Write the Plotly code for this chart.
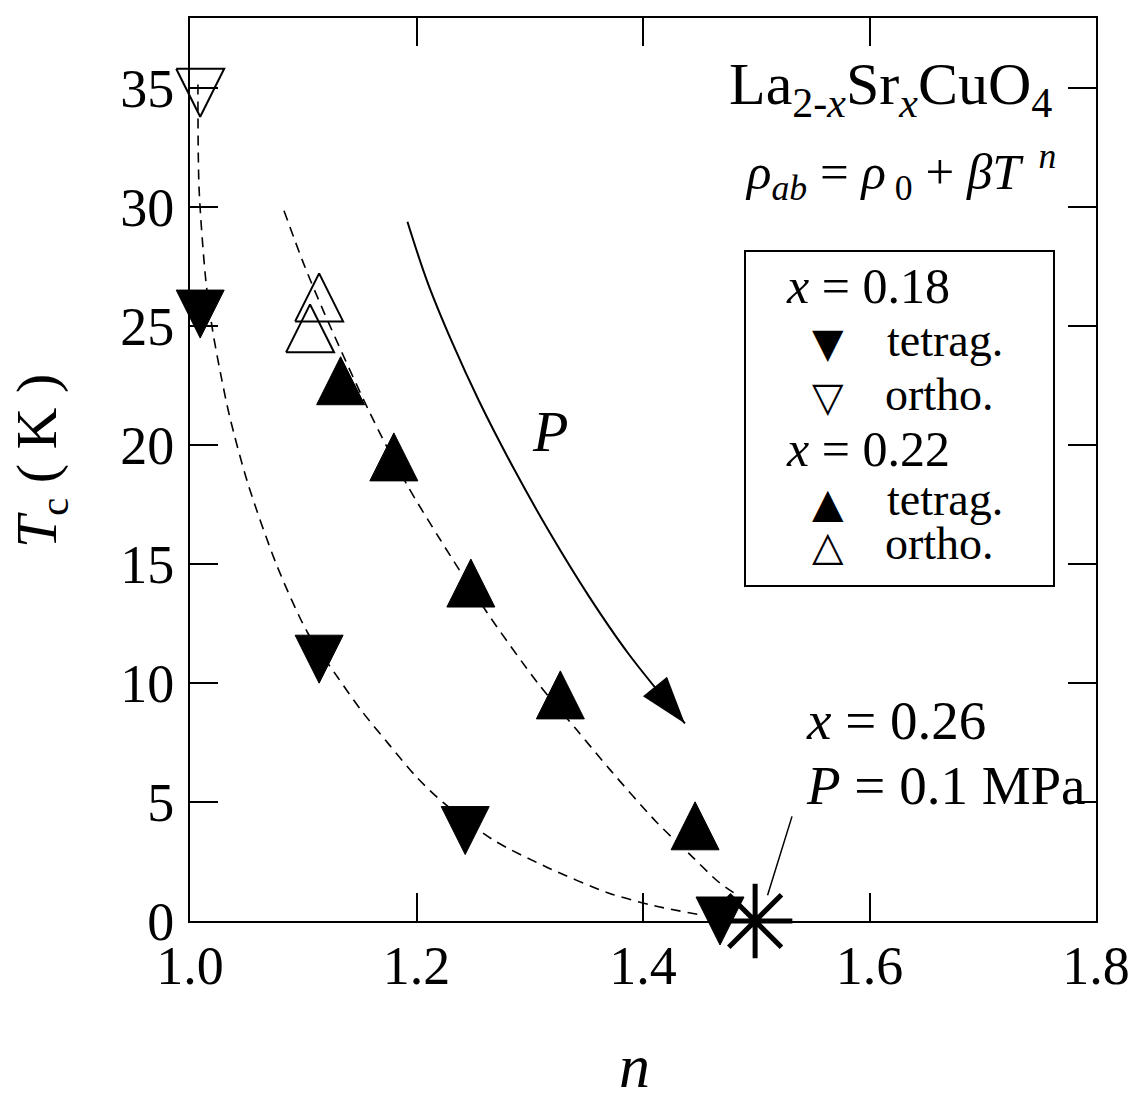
import plotly.graph_objects as go

# ------------------------------------------------------------------
# Tc versus the resistivity exponent n of La(2-x)Sr(x)CuO4
# ------------------------------------------------------------------

# x = 0.18, tetragonal phase (filled down-triangles)
n_x18_tet = [1.009, 1.114, 1.243, 1.468]
tc_x18_tet = [25.5, 11.0, 3.8, 0.0]
# x = 0.18, orthorhombic phase (open down-triangle)
n_x18_ort = [1.009]
tc_x18_ort = [34.8]
# x = 0.22, tetragonal phase (filled up-triangles)
n_x22_tet = [1.133, 1.180, 1.248, 1.327, 1.446]
tc_x22_tet = [22.7, 19.5, 14.2, 9.5, 4.0]
# x = 0.22, orthorhombic phase (open up-triangles)
n_x22_ort = [1.114, 1.106]
tc_x22_ort = [26.2, 24.9]
# x = 0.26 at P = 0.1 MPa
n_x26 = [1.499]
tc_x26 = [0.0]

# dashed guide through the x = 0.18 points
guide18_n = [1.007, 1.008, 1.014, 1.020, 1.027, 1.035, 1.051, 1.077, 1.104,
             1.131, 1.152, 1.176, 1.201, 1.224, 1.268, 1.316, 1.370, 1.410, 1.452]
guide18_tc = [35.15, 30.8, 26.9, 24.8, 23.0, 21.2, 18.4, 14.9, 12.1,
              10.2, 8.8, 7.4, 6.0, 4.96, 3.4, 2.24, 1.17, 0.64, 0.25]
# dashed guide through the x = 0.22 points
guide22_n = [1.083, 1.101, 1.119, 1.158, 1.191, 1.221, 1.262, 1.308, 1.342,
             1.371, 1.412, 1.442, 1.466, 1.484]
guide22_tc = [29.84, 27.54, 25.5, 21.43, 18.38, 16.02, 12.98, 9.94, 8.0,
              6.35, 4.15, 2.77, 1.67, 1.06]
# direction of increasing pressure (solid curve ending in an arrow head)
press_n = [1.192, 1.210, 1.231, 1.255, 1.286, 1.318, 1.352, 1.387, 1.437]
press_tc = [29.38, 26.8, 24.36, 21.87, 19.0, 16.29, 13.66, 11.24, 8.3]

# leader from the x = 0.26 label down to its point
leader_from = (1.532, 4.46)
leader_to = (1.510, 1.08)

x_ticks = [1.0, 1.2, 1.4, 1.6, 1.8]
x_tick_text = ["1.0", "1.2", "1.4", "1.6", "1.8"]
y_ticks = [0, 5, 10, 15, 20, 25, 30, 35]
y_tick_text = ["0", "5", "10", "15", "20", "25", "30", "35"]

N_RANGE = [1.0, 1.8]
TC_RANGE = [0.0, 37.94]

# ------------------------------------------------------------------
# page geometry (px)
# ------------------------------------------------------------------
W, H = 1137, 1098
FONT = "Liberation Serif"
GLYPH_FONT = "DejaVu Sans"
M_L, M_R, M_T, M_B = 100, 10, 5, 100
REG_L, REG_R, REG_T, REG_B = M_L, W - M_R, M_T, H - M_B
BOX_L, BOX_R, BOX_T, BOX_B = 190, 1096, 18, 921


def fx(px):
    return (px - REG_L) / (REG_R - REG_L)


def fy(py):
    return (REG_B - py) / (REG_B - REG_T)


ppx = (BOX_R - BOX_L) / (N_RANGE[1] - N_RANGE[0])
ppy = (BOX_B - BOX_T) / (TC_RANGE[1] - TC_RANGE[0])
# overlay axes spanning the whole drawing region at the same scale, so the
# large symbols near the frame are not clipped by it
N_RANGE_FULL = [N_RANGE[0] - (BOX_L - REG_L) / ppx, N_RANGE[1] + (REG_R - BOX_R) / ppx]
TC_RANGE_FULL = [TC_RANGE[0] - (REG_B - BOX_B) / ppy, TC_RANGE[1] + (BOX_T - REG_T) / ppy]

TRI_W, TRI_H = 48, 48  # symbol size in px


def triangles(ns, tcs, pointing):
    dx = TRI_W / 2 / ppx
    dy = TRI_H / 2 / ppy
    xs, ys = [], []
    for n, t in zip(ns, tcs):
        base = t - dy if pointing == "up" else t + dy
        apex = t + dy if pointing == "up" else t - dy
        xs += [n - dx, n + dx, n, n - dx, None]
        ys += [base, base, apex, base, None]
    return xs, ys


fig = go.Figure()

dash = dict(color="black", width=1.6, dash="10px,7px", shape="spline", smoothing=0.8)
fig.add_trace(go.Scatter(x=guide18_n, y=guide18_tc, mode="lines", line=dash,
                         hoverinfo="skip", showlegend=False))
fig.add_trace(go.Scatter(x=guide22_n, y=guide22_tc, mode="lines", line=dash,
                         hoverinfo="skip", showlegend=False))

fig.add_trace(go.Scatter(
    x=press_n, y=press_tc, mode="lines",
    line=dict(color="black", width=2, shape="spline", smoothing=1.0),
    hoverinfo="skip", showlegend=False))
# arrow head at the end of the pressure curve, aligned with its last segment
fig.add_trace(go.Scatter(
    x=press_n[-2:], y=press_tc[-2:], mode="markers",
    marker=dict(symbol="arrow", size=[0, 50], angleref="previous",
                color="black", opacity=1, line=dict(width=0, color="black")),
    hoverinfo="skip", showlegend=False))

fig.add_trace(go.Scatter(
    x=n_x26, y=tc_x26, mode="markers", cliponaxis=False,
    marker=dict(symbol="asterisk-open", size=62, color="black",
                line=dict(color="black", width=5)),
    name="x = 0.26", showlegend=False))

for ns, tcs, pointing, filled, name in [
    (n_x18_tet, tc_x18_tet, "down", True, "x = 0.18 tetrag."),
    (n_x18_ort, tc_x18_ort, "down", False, "x = 0.18 ortho."),
    (n_x22_tet, tc_x22_tet, "up", True, "x = 0.22 tetrag."),
    (n_x22_ort, tc_x22_ort, "up", False, "x = 0.22 ortho."),
]:
    xs, ys = triangles(ns, tcs, pointing)
    fig.add_trace(go.Scatter(
        x=xs, y=ys, xaxis="x2", yaxis="y2", mode="lines",
        fill="toself" if filled else "none", fillcolor="black",
        line=dict(color="black", width=1 if filled else 2),
        name=name, showlegend=False, hoverinfo="skip"))

axis_common = dict(
    ticks="inside", ticklen=28, tickwidth=2, tickcolor="black",
    showline=True, linecolor="black", linewidth=2, mirror="ticks",
    showgrid=False, zeroline=False, automargin=False,
    tickfont=dict(family=FONT, size=54, color="black"),
)

fig.update_layout(
    width=W, height=H,
    margin=dict(l=M_L, r=M_R, t=M_T, b=M_B, autoexpand=False),
    paper_bgcolor="white", plot_bgcolor="rgba(0,0,0,0)",
    showlegend=False,
    xaxis=dict(domain=[fx(BOX_L), fx(BOX_R)], range=N_RANGE, anchor="y",
               tickvals=x_ticks, ticktext=x_tick_text, ticklabelstandoff=-4,
               **axis_common),
    yaxis=dict(domain=[fy(BOX_B), fy(BOX_T)], range=TC_RANGE, anchor="x",
               tickvals=y_ticks, ticktext=y_tick_text, ticklabelstandoff=3,
               **axis_common),
    xaxis2=dict(domain=[0, 1], range=N_RANGE_FULL, anchor="y2", visible=False,
                automargin=False),
    yaxis2=dict(domain=[0, 1], range=TC_RANGE_FULL, anchor="x2", visible=False,
                automargin=False),
)

# legend frame
fig.add_shape(type="rect", xref="paper", yref="paper",
              x0=fx(745), x1=fx(1054), y0=fy(586), y1=fy(251),
              line=dict(color="black", width=2), fillcolor="rgba(0,0,0,0)")


def label(text, px, py, size, xanchor="left", family=FONT, angle=0, height=None):
    fig.add_annotation(text=text, x=fx(px), y=fy(py), xref="paper", yref="paper",
                       xanchor=xanchor, yanchor="middle", showarrow=False,
                       textangle=angle, height=height,
                       font=dict(family=family, size=size, color="black"))


label("La<sub>2-<i>x</i></sub>Sr<sub><i>x</i></sub>CuO<sub>4</sub>", 1054, 88, 60, "right")
label("<i>ρ</i><sub><i>ab</i></sub> = <i>ρ</i><sub> 0</sub> + <i>βT</i><sup>  <i>n</i></sup>",
      1058, 172, 51, "right")

label("<i>x</i> = 0.18", 784, 286, 50)
label("▼", 828, 343, 41, "center", GLYPH_FONT)
label("tetrag.", 885, 340, 46)
label("▽", 828, 397, 41, "center", GLYPH_FONT)
label("ortho.", 883, 394, 46)
label("<i>x</i> = 0.22", 784, 449, 50)
label("▲", 828, 503, 41, "center", GLYPH_FONT)
label("tetrag.", 885, 500, 46)
label("△", 828, 546, 41, "center", GLYPH_FONT)
label("ortho.", 883, 543, 46)

label("<i>P</i>", 550, 431, 58, "center")
label("<i>x</i> = 0.26", 804, 720, 55)
label("<i>P</i> = 0.1 MPa", 804, 785, 55)

label("<i>T</i><sub>c</sub> ( K )", 41, 461, 58, "center", angle=-90)
label("<i>n</i>", 634, 1066, 62, "center", height=56)

fig.add_annotation(x=leader_to[0], y=leader_to[1], ax=leader_from[0], ay=leader_from[1],
                   xref="x", yref="y", axref="x", ayref="y", text="",
                   showarrow=True, arrowhead=0, arrowwidth=1.5, arrowcolor="black")

fig.write_html("out.html")
